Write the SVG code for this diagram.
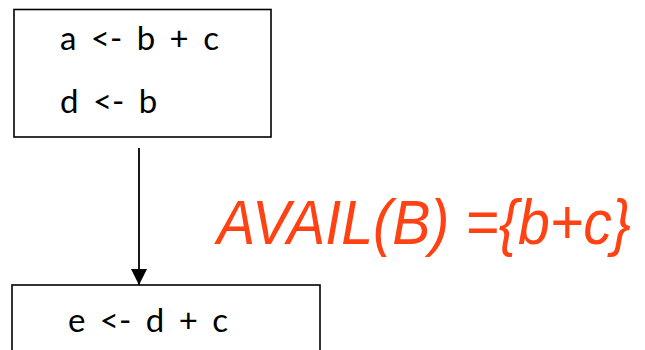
<svg xmlns="http://www.w3.org/2000/svg" width="645" height="350" viewBox="0 0 645 350">
<style>
.box{fill:#fff;stroke:#000;stroke-width:1.6}
.code{font-family:Lato,"Open Sans",sans-serif;font-size:33px;fill:#000;word-spacing:6px}
.avail{font-family:"Liberation Sans",Arial,sans-serif;font-style:italic;font-size:57px;fill:#FF4213}
.edge{stroke:#000;stroke-width:1.8;fill:none}
</style>
<defs>
<marker id="arr" markerWidth="16" markerHeight="18" refX="16" refY="8" orient="auto" markerUnits="userSpaceOnUse">
<path d="M0,0 L16,8 L0,16 z" fill="#000"/>
</marker>
</defs>
<rect width="645" height="350" fill="#fff"/>
<g id="connectors">
<line class="edge" x1="139" y1="148" x2="139" y2="285" marker-end="url(#arr)"/>
</g>
<g id="node1">
<rect class="box" x="14" y="9.5" width="257" height="127.5"/>
<text class="code" x="60" y="50">a &lt;- b + c</text>
<text class="code" x="60" y="113">d &lt;- b</text>
</g>
<g id="node2">
<rect class="box" x="12" y="285" width="308" height="80"/>
<text class="code" x="68" y="332">e &lt;- d + c</text>
</g>
<g id="label">
<text class="avail" transform="translate(217,244) scale(1,1.12)" x="0" y="0" textLength="414" lengthAdjust="spacingAndGlyphs">AVAIL(B) ={b+c}</text>
</g>
</svg>
